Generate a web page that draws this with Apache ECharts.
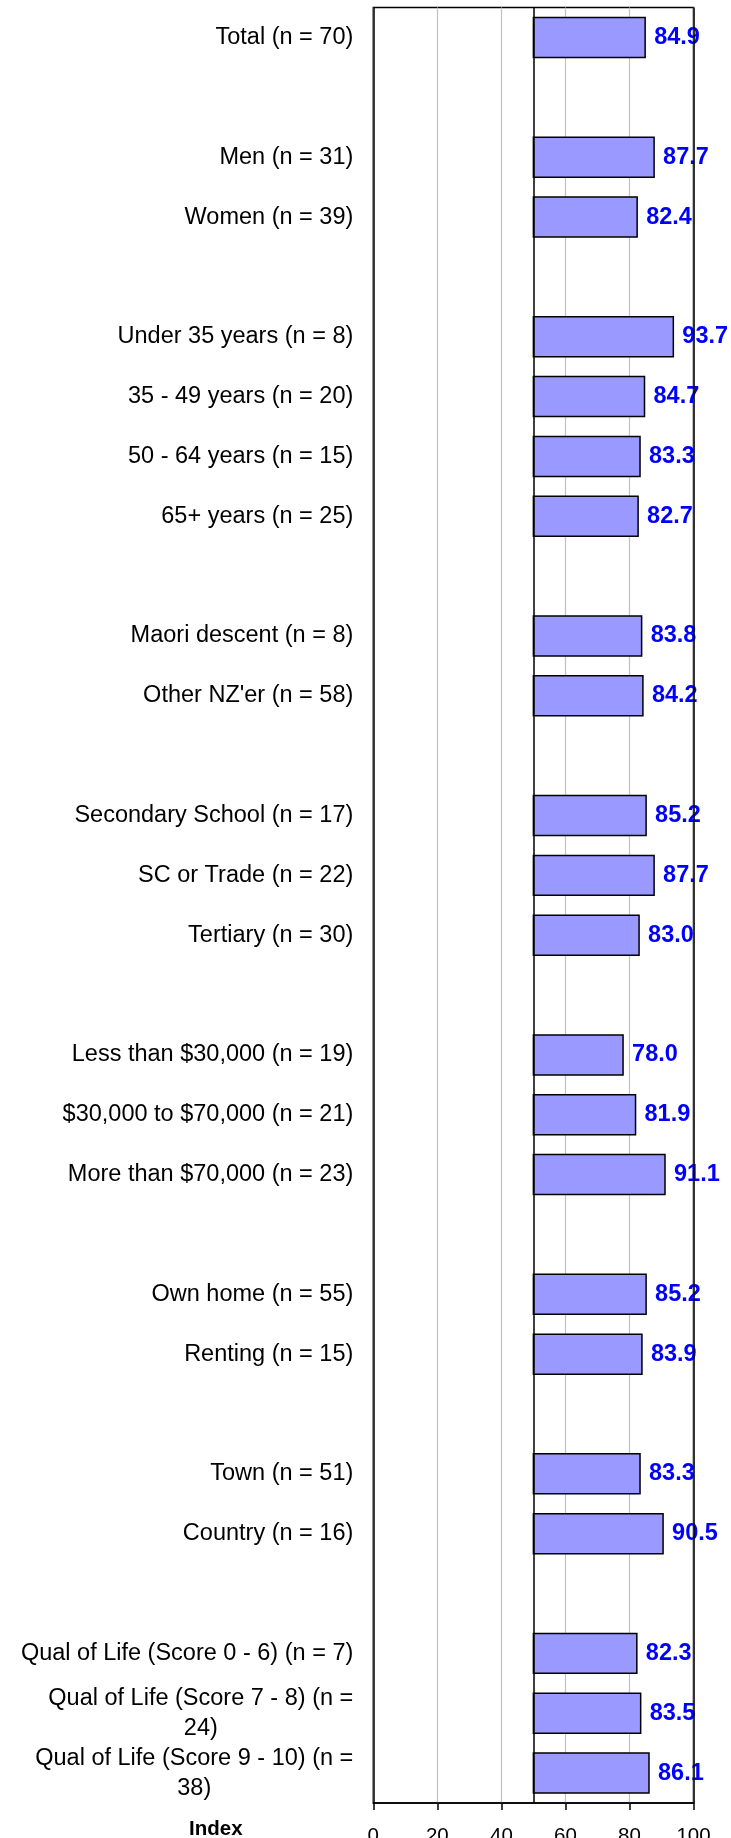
<!DOCTYPE html>
<html>
<head>
<meta charset="utf-8">
<title>Index by group</title>
<script src="https://cdn.jsdelivr.net/npm/echarts@6/dist/echarts.min.js"></script>
<style>
  html, body { margin: 0; padding: 0; background: #ffffff; }
  #chart { width: 731px; height: 1838px; }
</style>
</head>
<body>
<div id="chart"></div>
<script>
// Group labels; empty strings are spacer rows between groups.
const categories = [
  'Total (n = 70)', '',
  'Men (n = 31)', 'Women (n = 39)', '',
  'Under 35 years (n = 8)', '35 - 49 years (n = 20)', '50 - 64 years (n = 15)', '65+ years (n = 25)', '',
  'Maori descent (n = 8)', "Other NZ'er (n = 58)", '',
  'Secondary School (n = 17)', 'SC or Trade (n = 22)', 'Tertiary (n = 30)', '',
  'Less than $30,000 (n = 19)', '$30,000 to $70,000 (n = 21)', 'More than $70,000 (n = 23)', '',
  'Own home (n = 55)', 'Renting (n = 15)', '',
  'Town (n = 51)', 'Country (n = 16)', '',
  'Qual of Life (Score 0 - 6) (n = 7)', 'Qual of Life (Score 7 - 8) (n = 24)', 'Qual of Life (Score 9 - 10) (n = 38)'
];

// Index value per row (null on spacer rows).
const indexValues = [
  84.9, null,
  87.7, 82.4, null,
  93.7, 84.7, 83.3, 82.7, null,
  83.8, 84.2, null,
  85.2, 87.7, 83.0, null,
  78.0, 81.9, 91.1, null,
  85.2, 83.9, null,
  83.3, 90.5, null,
  82.3, 83.5, 86.1
];

// Value axis ticks and the reference level the bars grow from.
const axisTicks = [0, 20, 40, 60, 80, 100];
const baseLevel = 50;

const FONT = '"Liberation Sans", Arial, Helvetica, sans-serif';
const LABEL_SIZE = 23.5;
const LABEL_WRAP = 340;

// Word-wrap long row labels; wrapped lines are centred on each other.
const measureCtx = document.createElement('canvas').getContext('2d');
measureCtx.font = LABEL_SIZE + 'px ' + FONT;
function wrapLabel(text) {
  if (!text) return '';
  if (measureCtx.measureText(text).width <= LABEL_WRAP) return text;
  const words = text.split(' ');
  const lines = [];
  let line = '';
  words.forEach(w => {
    const trial = line ? line + ' ' + w : w;
    if (line && measureCtx.measureText(trial).width > LABEL_WRAP) {
      lines.push(line);
      line = w;
    } else {
      line = trial;
    }
  });
  if (line) lines.push(line);
  return lines.map(l => '{c|' + l + '}').join('\n');
}

const barData = [];
indexValues.forEach((v, i) => { if (v != null) barData.push([v, i]); });

const chart = echarts.init(document.getElementById('chart'), null, { renderer: 'canvas' });

chart.setOption({
  animation: false,
  backgroundColor: '#ffffff',
  grid: {
    left: 373.3,
    right: 37.5,
    top: 7.6,
    bottom: 35,
    containLabel: false,
    outerBoundsMode: 'none',
    show: true,
    borderColor: '#000000',
    borderWidth: 1.5,
    backgroundColor: 'transparent'
  },
  xAxis: {
    type: 'value',
    min: axisTicks[0],
    max: axisTicks[axisTicks.length - 1],
    interval: axisTicks[1] - axisTicks[0],
    axisLine: { show: true, lineStyle: { color: '#000000', width: 1.5 } },
    axisTick: { show: true, length: 7, lineStyle: { color: '#000000', width: 1.5 } },
    axisLabel: {
      margin: 23,
      color: '#000000',
      fontFamily: FONT,
      fontSize: 20.5,
      showMinLabel: true,
      showMaxLabel: true
    },
    splitLine: { show: true, lineStyle: { color: '#c0c0c0', width: 1.2 } }
  },
  yAxis: {
    type: 'category',
    inverse: true,
    data: categories,
    axisLine: { show: true, lineStyle: { color: '#000000', width: 1.5 } },
    axisTick: { show: false },
    splitLine: { show: false },
    axisLabel: {
      interval: 0,
      margin: 20,
      color: '#000000',
      fontFamily: FONT,
      fontSize: LABEL_SIZE,
      formatter: (val) => wrapLabel(val),
      rich: {
        c: {
          align: 'center',
          color: '#000000',
          fontFamily: FONT,
          fontSize: LABEL_SIZE,
          lineHeight: 30
        }
      }
    }
  },
  graphic: [
    {
      type: 'text',
      left: 189,
      top: 1819,
      style: {
        text: 'Index',
        fill: '#000000',
        font: 'bold 20.5px ' + FONT
      }
    }
  ],
  series: [
    {
      type: 'custom',
      name: 'Index',
      coordinateSystem: 'cartesian2d',
      encode: { x: 0, y: 1 },
      data: barData,
      z: 3,
      renderItem: function (params, api) {
        const value = api.value(0);
        const row = api.value(1);
        const start = api.coord([baseLevel, row]);
        const end = api.coord([value, row]);
        const h = api.size([0, 1])[1] * 0.668;
        return {
          type: 'group',
          children: [
            {
              type: 'rect',
              shape: { x: start[0], y: start[1] - h / 2, width: end[0] - start[0], height: h },
              style: { fill: '#9999ff', stroke: '#000000', lineWidth: 1.5 }
            },
            {
              type: 'text',
              style: {
                text: value.toFixed(1),
                x: end[0] + 9,
                y: end[1],
                align: 'left',
                verticalAlign: 'middle',
                fill: '#0000ff',
                font: 'bold ' + LABEL_SIZE + 'px ' + FONT
              }
            }
          ]
        };
      },
      markLine: {
        silent: true,
        symbol: 'none',
        label: { show: false },
        lineStyle: { color: '#000000', width: 1.5, type: 'solid' },
        data: [{ xAxis: baseLevel }]
      }
    },
    {
      // right edge of the plot frame, kept above the value labels
      type: 'line',
      data: [],
      z: 6,
      markLine: {
        silent: true,
        symbol: 'none',
        label: { show: false },
        lineStyle: { color: '#000000', width: 1.5, type: 'solid' },
        data: [{ xAxis: axisTicks[axisTicks.length - 1] }]
      }
    }
  ]
});
</script>
</body>
</html>
